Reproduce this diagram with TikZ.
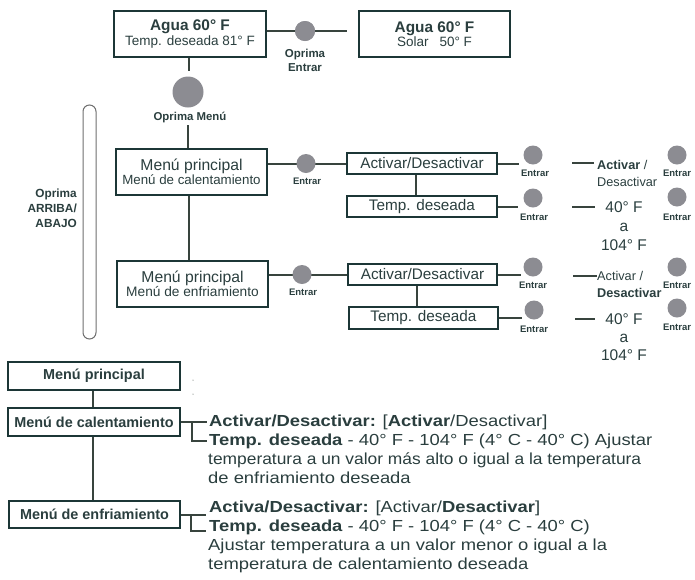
\documentclass[tikz,border=0pt]{standalone}
\usepackage{fontspec}
\setmainfont{Liberation Sans}
\newfontfamily\widesans[FakeStretch=1.15]{Liberation Sans}
\definecolor{txt}{RGB}{42,62,62}
\definecolor{boxc}{RGB}{28,54,54}
\definecolor{linec}{RGB}{56,68,62}
\definecolor{circ}{RGB}{140,140,146}
\definecolor{pillc}{RGB}{110,110,110}
\newcommand\fsz[2]{\fontsize{#1}{#2}\selectfont}
\begin{document}
\begin{tikzpicture}[x=1pt,y=-1pt,
  box/.style={draw=boxc, line width=2pt, inner sep=0pt, align=center, text=txt},
  lbl/.style={inner sep=0pt, text=txt, font=\bfseries\fsz{9.5}{11}},
  btn/.style={circle, fill=circ, inner sep=0pt, minimum size=19pt},
  conn/.style={draw=linec, line width=2pt},
  thin/.style={draw=linec, line width=1.3pt},
  stub/.style={draw=linec, line width=2.4pt},
  rtxt/.style={inner sep=0pt, text=txt, anchor=base west, font=\widesans\fsz{16}{19}}]
\useasboundingbox (0,0) rectangle (695,579);

% ---------- top ----------
\node[box, minimum width=152pt, minimum height=46pt] (b1) at (190,34)
  {\fsz{15.4}{20}\bfseries Agua 60° F\\\fsz{13.5}{20}\mdseries Temp. deseada 81° F};
\node[box, minimum width=151pt, minimum height=46pt] (b2) at (434.5,34)
  {\fsz{15.4}{20}\bfseries Agua 60° F\\\fsz{13.5}{20}\mdseries Solar\hspace{11pt}50° F};
\node[btn, minimum size=20pt] (c1) at (305,31) {};
\coordinate (t1) at (347,31);
\draw[conn] (b1.east |- c1) -- (t1);
\node[btn, minimum size=20pt] at (c1) {};
\node[lbl, font=\bfseries\fsz{11.5}{14}, align=center] (l1) at (305,60) {Oprima\\Entrar};

\coordinate (m1t) at (189,71);
\draw[thin] (b1.south -| m1t) -- (m1t);
\node[btn, minimum size=31pt] (m1) at (188,92) {};
\node[lbl, font=\bfseries\fsz{11.4}{14}] (l2) at (190,117) {Oprima Menú};

% ---------- middle left ----------
\node[box, minimum width=151pt, minimum height=46pt] (b3) at (191.5,172)
  {\fsz{15.7}{17}Menú principal\\\fsz{13.3}{17}Menú de calentamiento};
\node[box, minimum width=151pt, minimum height=46pt] (b4) at (192.5,284)
  {\fsz{15.7}{20}Menú principal\\\fsz{13.7}{20}Menú de enfriamiento};
\coordinate (m2t) at (188,125);
\draw[thin] (m2t) -- (m2t |- b3.north);
\draw[thin] (b3.south -| 189,0) -- (b4.north -| 189,0);

\node[draw=pillc, line width=1pt, rounded corners=6.5pt, minimum width=13pt,
      minimum height=234pt, inner sep=0pt] (pill) at (89.5,222) {};
\node[lbl, font=\bfseries\fsz{11.8}{15}, align=right, anchor=east] (l3) at (77,208)
  {Oprima\\ARRIBA/\\ABAJO};

% ---------- right boxes ----------
\node[box, font=\fsz{15.3}{18}, minimum width=150pt, minimum height=21pt] (a1) at (422,163.5) {Activar/Desactivar};
\node[box, font=\fsz{15.3}{18}, minimum width=150pt, minimum height=21pt] (a2) at (422,206.5) {Temp. deseada};
\node[box, font=\fsz{15.3}{18}, minimum width=149pt, minimum height=21pt] (d1) at (422.5,274.5) {Activar/Desactivar};
\node[box, font=\fsz{15.3}{18}, minimum width=149pt, minimum height=22pt] (d2) at (423.5,318) {Temp. deseada};
\draw[thin] (a1.south -| 416,0) -- (a2.north -| 416,0);
\draw[thin] (d1.south -| 417,0) -- (d2.north -| 417,0);

\draw[conn] (b3.east |- a1.west) -- (a1.west);
\node[btn] (e1) at (306,163.5) {};
\node[lbl] (le1) at (307,181) {Entrar};
\draw[conn] (b4.east |- d1.west) -- (d1.west);
\node[btn] (e2) at (302,274.5) {};
\node[lbl] (le2) at (303,292) {Entrar};

% row A
\coordinate (pa) at (519,163.5);
\draw[conn] (a1.east) -- (pa);
\node[btn] (fa) at (533,155) {};
\node[lbl] (lfa) at (535,173) {Entrar};
\coordinate (sa1) at (572,163); \coordinate (sa2) at (594,163);
\draw[stub] (sa1) -- (sa2);
\node[inner sep=0pt, text=txt, anchor=west, align=left, font=\fsz{12.7}{17}] (ta) at (597,173.5)
  {\textbf{Activar} /\\Desactivar};
\node[btn] (ga) at (677,155) {};
\node[lbl] (lga) at (677,173) {Entrar};

% row B
\coordinate (pb) at (518,206.5);
\draw[conn] (a2.east) -- (pb);
\node[btn] (fb) at (533,198) {};
\node[lbl] (lfb) at (534,217) {Entrar};
\coordinate (sb1) at (572,207); \coordinate (sb2) at (595,207);
\draw[stub] (sb1) -- (sb2);
\node[inner sep=0pt, text=txt, align=center, font=\fsz{15.5}{19}] (tb) at (624,226)
  {40° F\\a\\104° F};
\node[btn] (gb) at (677,197) {};
\node[lbl] (lgb) at (677,217) {Entrar};

% row C
\coordinate (pc) at (521,274.5);
\draw[conn] (d1.east) -- (pc);
\node[btn] (fc) at (533,267) {};
\node[lbl] (lfc) at (533,285) {Entrar};
\coordinate (sc1) at (573,276); \coordinate (sc2) at (597,276);
\draw[stub] (sc1) -- (sc2);
\node[inner sep=0pt, text=txt, anchor=west, align=left, font=\fsz{12.7}{17}] (tc) at (597,284.5)
  {Activar /\\\textbf{Desactivar}};
\node[btn] (gc) at (677,267) {};
\node[lbl] (lgc) at (677,285) {Entrar};

% row D
\coordinate (pd) at (522,318);
\draw[conn] (d2.east) -- (pd);
\node[btn] (fd) at (534,310) {};
\node[lbl] (lfd) at (534,329) {Entrar};
\coordinate (sd1) at (575,319); \coordinate (sd2) at (595,319);
\draw[stub] (sd1) -- (sd2);
\node[inner sep=0pt, text=txt, align=center, font=\fsz{15.5}{18}] (td) at (624,337)
  {40° F\\a\\104° F};
\node[btn] (gd) at (677,308) {};
\node[lbl] (lgd) at (677,327) {Entrar};

% ---------- bottom ----------
\node[box, font=\bfseries\fsz{14.4}{17}, minimum width=172pt, minimum height=28pt] (bp) at (94,376) {Menú principal};
\node[box, font=\bfseries\fsz{14.4}{17}, minimum width=172pt, minimum height=28pt] (bh) at (94,422) {Menú de calentamiento};
\node[box, font=\bfseries\fsz{14.4}{17}, minimum width=171pt, minimum height=27pt] (be) at (94.5,514.5) {Menú de enfriamiento};
\draw[conn] (bp.south -| 93,0) -- (bh.north -| 93,0);
\draw[conn] (bh.south -| 93,0) -- (be.north -| 93,0);
\fill[linec] (193,380) circle (0.5pt);
\fill[linec] (193,394) circle (0.5pt);

\draw[conn] (bh.east) -- ([xshift=26pt]bh.east);
\draw[conn] ([xshift=11pt]bh.east) |- ([xshift=26pt,yshift=-19pt]bh.east);
\draw[conn] (be.east) -- ([xshift=25pt]be.east);
\draw[conn] ([xshift=10pt]be.east) |- ([xshift=25pt,yshift=-16pt]be.east);

\node[rtxt] (h1) at (209,426) {\textbf{Activar/Desactivar:} [\textbf{Activar}/Desactivar]};
\node[rtxt] (h2) at (209,445.5) {\textbf{Temp. deseada} - 40° F - 104° F (4° C - 40° C) Ajustar};
\node[rtxt] (h3) at (208,464.5) {\scalebox{0.945}[1]{temperatura a un valor más alto o igual a la temperatura}};
\node[rtxt] (h4) at (208,483.5) {de enfriamiento deseada};
\node[rtxt] (k1) at (209,512.5) {\textbf{Activa/Desactivar:} [Activar/\textbf{Desactivar}]};
\node[rtxt] (k2) at (209,531.5) {\textbf{Temp. deseada} - 40° F - 104° F (4° C - 40° C)};
\node[rtxt] (k3) at (208,550.5) {Ajustar temperatura a un valor menor o igual a la};
\node[rtxt] (k4) at (208,569.5) {temperatura de calentamiento deseada};
\end{tikzpicture}
\end{document}
